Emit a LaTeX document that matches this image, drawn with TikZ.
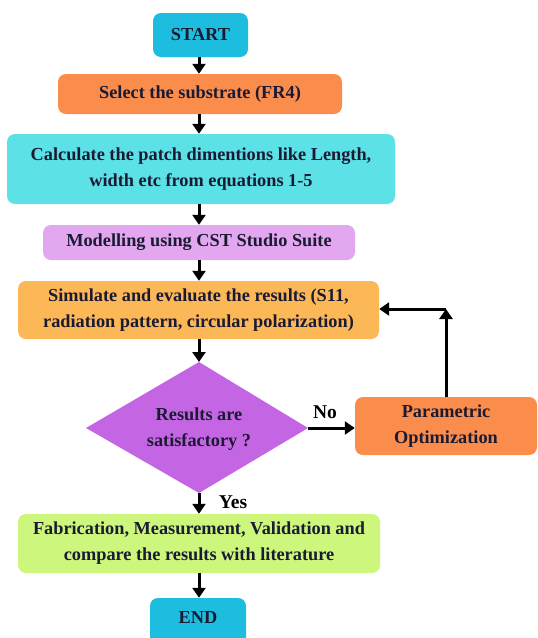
\documentclass[tikz,border=0pt]{standalone}
\usepackage{fontspec}
\setmainfont{Liberation Serif}
\usetikzlibrary{arrows.meta}
\definecolor{cstart}{HTML}{1DBDDF}
\definecolor{corange}{HTML}{FA8C4C}
\definecolor{ccalc}{HTML}{5CE1E7}
\definecolor{cmodel}{HTML}{E3A7EF}
\definecolor{csim}{HTML}{FCB757}
\definecolor{cdiam}{HTML}{C466E4}
\definecolor{cfab}{HTML}{CDF67C}
\definecolor{ctext}{HTML}{1A1A33}
\tikzset{
  box/.style={rounded corners=8pt, draw=none, align=center, inner sep=0pt,
    font=\fontsize{18.3}{26}\selectfont\bfseries, text=ctext},
  arr/.style={line width=3pt, -{Triangle[length=10pt,width=13pt]}},
  lbl/.style={font=\fontsize{19.5}{22}\selectfont\bfseries, text=black, inner sep=0pt}
}
\begin{document}
\begin{tikzpicture}[x=1pt,y=-1pt]
\useasboundingbox (0,0) rectangle (538,638);
\begin{scope}
\clip (0,0) rectangle (538,638);
\node[box, fill=cstart, minimum width=95pt, minimum height=44pt] (start) at (200.5,35) {START};
\node[box, fill=corange, minimum width=284pt, minimum height=40pt] (select) at (200,94) {Select the substrate (FR4)};
\node[box, fill=ccalc, minimum width=388pt, minimum height=70pt] (calc) at (201,169) {Calculate the patch dimentions like Length,\\width etc from equations 1-5};
\node[box, fill=cmodel, minimum width=312pt, minimum height=35pt] (model) at (199,242.5) {Modelling using CST Studio Suite};
\node[box, fill=csim, minimum width=361pt, minimum height=58pt] (sim) at (198.5,310) {Simulate and evaluate the results (S11,\\radiation pattern, circular polarization)};
\coordinate (dtop) at (199,362);
\coordinate (dbot) at (199,493);
\coordinate (dleft) at (86,428);
\coordinate (dright) at (308,428);
\fill[cdiam] (dtop) -- (dright) -- (dbot) -- (dleft) -- cycle;
\node[box] (dec) at (199,429) {Results are\\satisfactory ?};
\node[box, fill=corange, minimum width=182pt, minimum height=58pt] (param) at (446,426) {Parametric\\Optimization};
\node[box, fill=cfab, minimum width=362pt, minimum height=59pt] (fab) at (199,543.5) {Fabrication, Measurement, Validation and\\compare the results with literature};
\node[box, fill=cstart, minimum width=96pt, minimum height=48pt] (end) at (198,622) {};
\node[box] (endtxt) at (198,618) {END};
\end{scope}
\coordinate (corner) at (446,309);
\draw[arr] (start.south -| 199,0) -- (select.north -| 199,0);
\draw[arr] (select.south -| 199,0) -- (calc.north -| 199,0);
\draw[arr] (calc.south -| 199,0) -- (model.north -| 199,0);
\draw[arr] (model.south -| 199,0) -- (sim.north -| 199,0);
\draw[arr] (sim.south -| 199,0) -- (dtop);
\draw[arr] (dright) -- (param.west |- dright);
\draw[arr] (param.north) -- (corner);
\draw[arr] (corner) -- (corner -| sim.east);
\draw[arr] (dbot) -- (fab.north -| dbot);
\draw[arr] (fab.south -| 199,0) -- (end.north -| 199,0);
\node[lbl] (no) at (325,412) {No};
\node[lbl] (yes) at (233,502) {Yes};
\end{tikzpicture}
\end{document}
